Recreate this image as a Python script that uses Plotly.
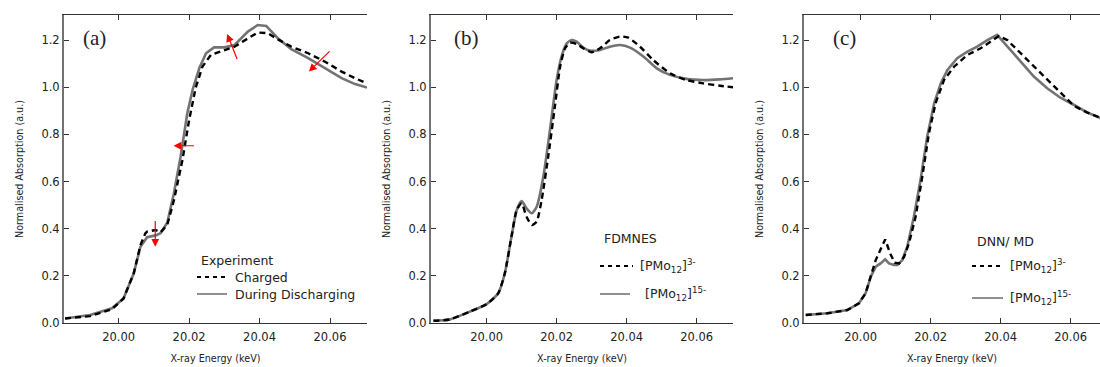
import plotly.graph_objects as go

# ---------------- data ----------------
# (a) Experiment
a_charged_E = [19.9848, 19.9919, 19.9981, 20.0014, 20.0043, 20.0062, 20.0076, 20.0081, 20.0105,
               20.0119, 20.0138, 20.0157, 20.0181, 20.0200, 20.0219, 20.0238, 20.0262, 20.0290,
               20.0329, 20.0367, 20.0395, 20.0424, 20.0452, 20.0490, 20.0538, 20.0586, 20.0633,
               20.0671, 20.0705]
a_charged_y = [0.018, 0.028, 0.057, 0.103, 0.210, 0.330, 0.380, 0.387, 0.394,
               0.384, 0.415, 0.520, 0.690, 0.860, 1.000, 1.088, 1.138, 1.152,
               1.173, 1.208, 1.233, 1.230, 1.204, 1.173, 1.145, 1.109, 1.067,
               1.039, 1.017]
a_dis_E = [19.9848, 19.9919, 19.9981, 20.0014, 20.0043, 20.0062, 20.0081, 20.0105, 20.0119,
           20.0138, 20.0157, 20.0176, 20.0195, 20.0210, 20.0229, 20.0248, 20.0271, 20.0300,
           20.0329, 20.0367, 20.0395, 20.0419, 20.0452, 20.0490, 20.0538, 20.0586, 20.0633,
           20.0671, 20.0705]
a_dis_y = [0.018, 0.033, 0.061, 0.103, 0.210, 0.323, 0.363, 0.371, 0.380,
           0.425, 0.550, 0.706, 0.890, 0.990, 1.081, 1.145, 1.170, 1.170,
           1.180, 1.237, 1.265, 1.261, 1.209, 1.162, 1.124, 1.081, 1.039,
           1.014, 0.999]

# (b) FDMNES
b_3_E = [19.9848, 19.9895, 19.9952, 20.0000, 20.0033, 20.0052, 20.0071, 20.0086, 20.0100,
         20.0114, 20.0129, 20.0143, 20.0157, 20.0176, 20.0195, 20.0210, 20.0224, 20.0238,
         20.0257, 20.0276, 20.0300, 20.0324, 20.0352, 20.0381, 20.0405, 20.0438, 20.0476,
         20.0524, 20.0571, 20.0619, 20.0667, 20.0705]
b_3_y = [0.008, 0.014, 0.047, 0.079, 0.125, 0.210, 0.366, 0.479, 0.507,
         0.450, 0.415, 0.430, 0.520, 0.706, 0.918, 1.088, 1.166, 1.190,
         1.184, 1.166, 1.149, 1.166, 1.201, 1.216, 1.211, 1.173, 1.116,
         1.060, 1.031, 1.017, 1.007, 1.000]
b_15_E = [19.9848, 19.9895, 19.9952, 20.0000, 20.0033, 20.0052, 20.0071, 20.0086, 20.0100,
          20.0114, 20.0129, 20.0143, 20.0162, 20.0181, 20.0200, 20.0214, 20.0229, 20.0243,
          20.0257, 20.0276, 20.0295, 20.0324, 20.0352, 20.0381, 20.0410, 20.0448, 20.0486,
          20.0524, 20.0571, 20.0619, 20.0667, 20.0705]
b_15_y = [0.008, 0.014, 0.047, 0.079, 0.125, 0.210, 0.366, 0.479, 0.517,
          0.486, 0.465, 0.493, 0.620, 0.819, 1.031, 1.131, 1.187, 1.201,
          1.194, 1.169, 1.156, 1.159, 1.173, 1.180, 1.169, 1.131, 1.081,
          1.053, 1.036, 1.031, 1.034, 1.039]

# (c) DNN/ MD
c_3_E = [19.9843, 19.9905, 19.9962, 19.9995, 20.0014, 20.0029, 20.0043, 20.0057, 20.0070,
         20.0084, 20.0097, 20.0110, 20.0124, 20.0138, 20.0157, 20.0176, 20.0195, 20.0214,
         20.0238, 20.0267, 20.0305, 20.0343, 20.0371, 20.0395, 20.0419, 20.0457, 20.0495,
         20.0533, 20.0571, 20.0610, 20.0648, 20.0690]
c_3_y = [0.033, 0.040, 0.054, 0.082, 0.125, 0.196, 0.266, 0.312, 0.354,
         0.295, 0.255, 0.252, 0.280, 0.337, 0.450, 0.620, 0.805, 0.932,
         1.031, 1.088, 1.138, 1.166, 1.194, 1.218, 1.201, 1.145, 1.088,
         1.031, 0.975, 0.921, 0.893, 0.867]
c_15_E = [19.9843, 19.9905, 19.9962, 19.9995, 20.0014, 20.0029, 20.0043, 20.0057, 20.0070,
          20.0081, 20.0095, 20.0105, 20.0119, 20.0133, 20.0152, 20.0171, 20.0190, 20.0210,
          20.0229, 20.0248, 20.0276, 20.0305, 20.0333, 20.0362, 20.0390, 20.0419, 20.0457,
          20.0495, 20.0533, 20.0571, 20.0610, 20.0648, 20.0690]
c_15_y = [0.033, 0.040, 0.054, 0.082, 0.125, 0.196, 0.238, 0.252, 0.269,
          0.252, 0.245, 0.245, 0.266, 0.323, 0.450, 0.606, 0.790, 0.932,
          1.017, 1.074, 1.124, 1.152, 1.173, 1.201, 1.223, 1.173, 1.109,
          1.046, 0.996, 0.956, 0.925, 0.893, 0.867]

# red arrows in (a): (tail E, tail y, head E, head y)
arrow_tail_E = [20.0104, 20.0218, 20.0338, 20.0603]
arrow_tail_y = [0.439, 0.752, 1.114, 1.159]
arrow_head_E = [20.0104, 20.0156, 20.0308, 20.0540]
arrow_head_y = [0.323, 0.752, 1.227, 1.067]

x_ticks = [20.00, 20.02, 20.04, 20.06]
x_tick_text = ["20.00", "20.02", "20.04", "20.06"]
y_ticks = [0.0, 0.2, 0.4, 0.6, 0.8, 1.0, 1.2]
y_tick_text = ["0.0", "0.2", "0.4", "0.6", "0.8", "1.0", "1.2"]
panel_labels = ["(a)", "(b)", "(c)"]
legend_titles = ["Experiment", "FDMNES", "DNN/ MD"]
legend_a = ["Charged", "During Discharging"]
legend_bc = ["[PMo<sub>12</sub>]<sup>3-</sup>", "[PMo<sub>12</sub>]<sup>15-</sup>"]

# ---------------- styling ----------------
W, H = 1100, 367
FONT = "DejaVu Sans"
GRAY = "#737373"
DASH = "6px,4px"
x_dom = [(64 / W, 367 / W), (431 / W, 733 / W), (804 / W, 1.0)]
y_dom = (1 - 323 / H, 1 - 15 / H)
x_rng = [(19.9845, 20.0705), (19.9841, 20.0704), (19.9838, 20.0684)]
y_rng = (-0.0013, 1.3075)

fig = go.Figure()

panels = [
    (a_charged_E, a_charged_y, a_dis_E, a_dis_y, "linear"),
    (b_3_E, b_3_y, b_15_E, b_15_y, "spline"),
    (c_3_E, c_3_y, c_15_E, c_15_y, "linear"),
]
for i, (e1, y1, e2, y2, shape) in enumerate(panels):
    xa = "x" if i == 0 else f"x{i+1}"
    ya = "y" if i == 0 else f"y{i+1}"
    fig.add_trace(go.Scatter(x=e2, y=y2, mode="lines", xaxis=xa, yaxis=ya,
                             line=dict(color=GRAY, width=2.6, shape=shape, smoothing=0.6),
                             showlegend=False, hoverinfo="skip"))
    fig.add_trace(go.Scatter(x=e1, y=y1, mode="lines", xaxis=xa, yaxis=ya,
                             line=dict(color="black", width=2.4, dash=DASH, shape=shape,
                                       smoothing=0.6),
                             showlegend=False, hoverinfo="skip"))

layout = dict(width=W, height=H, margin=dict(l=0, r=0, t=0, b=0),
              paper_bgcolor="white", plot_bgcolor="white",
              font=dict(family=FONT, color="#222"), showlegend=False)

tickfont = dict(family=FONT, size=11.5, color="#222")
titlefont = dict(family=FONT, size=9.6, color="#222")
for i in range(3):
    sx = "" if i == 0 else str(i + 1)
    layout[f"xaxis{sx}"] = dict(
        domain=list(x_dom[i]), range=list(x_rng[i]), anchor=f"y{sx}",
        tickvals=x_ticks, ticktext=x_tick_text, ticks="inside", ticklen=5,
        tickcolor="#333", showline=True, linecolor="#333", linewidth=1,
        mirror="ticks", showgrid=False, zeroline=False, tickfont=tickfont,
        ticklabelstandoff=3,
        title=dict(text="X-ray Energy (keV)", font=titlefont, standoff=12),
        automargin=False)
    layout[f"yaxis{sx}"] = dict(
        domain=list(y_dom), range=list(y_rng), anchor=f"x{sx}",
        tickvals=y_ticks, ticktext=y_tick_text, ticks="inside", ticklen=5,
        tickcolor="#333", showline=True, linecolor=GRAY, linewidth=2,
        mirror=False, showgrid=False, zeroline=False, tickfont=tickfont,
        title=dict(text="Normalised Absorption (a.u.)", font=titlefont, standoff=16),
        automargin=False)

# right-hand frame axes for (a) and (b)
for j, (sx, tgt) in enumerate([("4", ""), ("5", "2")]):
    layout[f"yaxis{sx}"] = dict(
        overlaying=f"y{tgt}", anchor=f"x{tgt}", side="right", range=list(y_rng),
        tickvals=y_ticks, ticks="inside", ticklen=5, tickcolor="#333",
        showticklabels=False, showline=True, linecolor="#333", linewidth=1,
        showgrid=False, zeroline=False)

fig.update_layout(**layout)

ann = []
shapes = []
# panel labels
label_x = [81, 452, 831]
for i, t in enumerate(panel_labels):
    ann.append(dict(text=t, xref="paper", yref="paper", x=label_x[i] / W, y=1 - 38 / H,
                    xanchor="left", yanchor="middle", showarrow=False,
                    font=dict(family="Liberation Serif", size=21, color="#222")))

# legends (text + sample lines)
leg_font = dict(family=FONT, size=12.5, color="#222")
leg_title_pos = [(199, 260), (602, 239), (975, 241)]
leg_rows = [[(197, 227, 277, 233), (197, 227, 294, 233)],
            [(600, 633, 266, 638), (600, 630, 294, 643)],
            [(972, 1003, 266, 1008), (972, 1003, 298, 1008)]]
for i in range(3):
    tx, ty = leg_title_pos[i]
    ann.append(dict(text=legend_titles[i], xref="paper", yref="paper", x=tx / W, y=1 - ty / H,
                    xanchor="left", yanchor="middle", showarrow=False, font=leg_font))
    labels = legend_a if i == 0 else legend_bc
    for k, (x0, x1, yy, txx) in enumerate(leg_rows[i]):
        shapes.append(dict(type="line", xref="paper", yref="paper", x0=x0 / W, x1=x1 / W,
                           y0=1 - yy / H, y1=1 - yy / H,
                           line=dict(color="black" if k == 0 else GRAY, width=2 if k == 0 else 1.6,
                                     dash="4px,4px" if k == 0 else "solid")))
        ann.append(dict(text=labels[k], xref="paper", yref="paper", x=txx / W, y=1 - yy / H,
                        xanchor="left", yanchor="middle", showarrow=False, font=leg_font))

# red arrows in (a)
for te, ty_, he, hy in zip(arrow_tail_E, arrow_tail_y, arrow_head_E, arrow_head_y):
    ann.append(dict(x=he, y=hy, ax=te, ay=ty_, xref="x", yref="y", axref="x", ayref="y",
                    text="", showarrow=True, arrowhead=2, arrowsize=1.3, arrowwidth=1.2,
                    arrowcolor="red"))

fig.update_layout(annotations=ann, shapes=shapes)
fig.write_html("out.html")
